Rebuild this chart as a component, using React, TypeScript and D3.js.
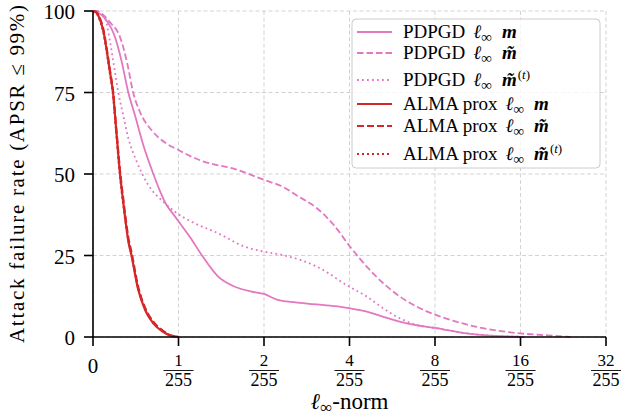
import React from "react";
import * as d3 from "d3";

// x values are in units of 1/255, y values in %
const xTicks = [0, 1, 2, 4, 8, 16, 32];
const yTicks = [0, 25, 50, 75, 100];

const pdpgdM = [
  [0, 100], [0.05, 99.6], [0.14, 97.7], [0.257, 92], [0.336, 84.4], [0.413, 75],
  [0.491, 68], [0.588, 58.9], [0.706, 50], [0.78, 45], [0.86, 40.5], [0.93, 38],
  [1.0, 35.5], [1.1, 30.5], [1.21, 25], [1.38, 18.5], [1.58, 15.4], [1.81, 13.9],
  [2.0, 13.2], [2.22, 11.5], [2.68, 10.5], [3.51, 9.5], [4.02, 8.8], [4.6, 7.8],
  [5.26, 6.2], [6.36, 4.2], [8.1, 2.7], [10.3, 1.1], [12.5, 0.4], [15.5, 0.1], [16.5, 0],
];
const pdpgdMTilde = [
  [0, 100], [0.05, 100], [0.12, 98.8], [0.2, 96.5], [0.316, 92], [0.4, 84], [0.47, 75],
  [0.55, 69], [0.7, 63], [0.85, 59.5], [0.99, 57.5], [1.1, 55.5], [1.21, 54],
  [1.58, 51.5], [2.0, 48.2], [2.34, 46], [2.6, 43.5], [3.07, 39.5], [3.51, 34.5], [4.02, 27.7],
  [4.6, 21.6], [5.26, 16.5], [6.02, 12.4], [6.9, 9.3], [8.1, 6.7], [9.5, 4.7],
  [11.8, 2.7], [16, 1.1], [20, 0.5], [24, 0],
];
const pdpgdMTildeT = [
  [0, 100], [0.05, 99.4], [0.14, 97.7], [0.199, 90.6], [0.238, 84.4], [0.296, 75],
  [0.354, 68], [0.413, 61], [0.511, 53.8], [0.647, 46.6], [0.822, 41.5], [0.959, 38.4],
  [1.14, 34.9], [1.38, 31.8], [1.71, 27.7], [2.0, 26.2], [2.34, 25.1], [3.07, 21.6],
  [4.0, 15.4], [4.6, 12.4], [5.26, 8.8], [6.02, 5.7], [6.9, 3.7], [8.1, 2.7],
  [9.5, 1.6], [11.8, 0.6], [15.5, 0.1], [16.5, 0],
];
const almaM = [
  [0, 100], [0.04, 99.5], [0.08, 97.5], [0.12, 94], [0.16, 88], [0.2, 81], [0.234, 75],
  [0.27, 64], [0.316, 50], [0.36, 40], [0.413, 29.4], [0.45, 25], [0.53, 14.4],
  [0.61, 8.3], [0.705, 4.2], [0.82, 1.6], [0.9, 0.5], [0.98, 0.1], [1.0, 0],
];
const almaMTilde = [
  [0, 100], [0.04, 99.6], [0.08, 97.8], [0.12, 94.5], [0.16, 88.5], [0.2, 81.5],
  [0.234, 75.5], [0.27, 64.5], [0.316, 51], [0.36, 41], [0.413, 30.5], [0.45, 26],
  [0.53, 15.2], [0.61, 8.9], [0.705, 4.7], [0.82, 1.9], [0.9, 0.6], [0.98, 0.1], [1.0, 0],
];
const almaMTildeT = [
  [0, 100], [0.04, 99.4], [0.08, 97.2], [0.12, 93.6], [0.16, 87.5], [0.2, 80.5],
  [0.234, 74.5], [0.27, 63.5], [0.316, 49.5], [0.36, 39.5], [0.413, 29.8], [0.45, 25.5],
  [0.53, 14.9], [0.61, 8.6], [0.705, 4.4], [0.82, 1.7], [0.9, 0.5], [0.98, 0.1], [1.0, 0],
];

const PINK = "#e377c2";
const RED = "#d62728";

const series = [
  { data: pdpgdM, color: PINK, dash: null, width: 1.8, method: "PDPGD", tilde: false, sup: false },
  { data: pdpgdMTilde, color: PINK, dash: "6.5,3", width: 1.8, method: "PDPGD", tilde: true, sup: false },
  { data: pdpgdMTildeT, color: PINK, dash: "1.8,3.2", width: 1.8, method: "PDPGD", tilde: true, sup: true },
  { data: almaM, color: RED, dash: null, width: 2.2, method: "ALMA prox", tilde: false, sup: false },
  { data: almaMTilde, color: RED, dash: "7,3", width: 2.2, method: "ALMA prox", tilde: true, sup: false },
  { data: almaMTildeT, color: RED, dash: "2,3", width: 2.2, method: "ALMA prox", tilde: true, sup: true },
];

const W = 624;
const H = 417;
const left = 93;
const right = 606;
const top = 11;
const bottom = 337;
const FONT = "'Liberation Serif', 'Times New Roman', serif";

// linear up to 1/255, then one tick step per doubling
const warp = (v: number) => (v < 1 ? v : 1 + Math.log2(v));

export default function App() {
  const xLin = d3.scaleLinear().domain([0, warp(32)]).range([left, right]);
  const x = (v: number) => xLin(warp(v));
  const y = d3.scaleLinear().domain([0, 100]).range([bottom, top]);

  const line = d3
    .line<number[]>()
    .x((d) => x(d[0]))
    .y((d) => y(d[1]))
    .curve(d3.curveMonotoneX);

  const rowY = [32, 53, 80, 104, 126, 154];

  return (
    <svg
      width={W}
      height={H}
      style={{ position: "absolute", left: 0, top: 0, background: "#fff" }}
      fontFamily={FONT}
    >
      {/* grid */}
      <g stroke="#d3d3d3" strokeWidth={1} strokeDasharray="4,2.5">
        {xTicks.map((t) => (
          <line key={"gx" + t} x1={x(t)} x2={x(t)} y1={top} y2={bottom} />
        ))}
        {yTicks.map((t) => (
          <line key={"gy" + t} x1={left} x2={right} y1={y(t)} y2={y(t)} />
        ))}
      </g>

      {/* curves */}
      {series.map((s, i) => (
        <path
          key={i}
          d={line(s.data) || ""}
          fill="none"
          stroke={s.color}
          strokeWidth={s.width}
          strokeDasharray={s.dash || undefined}
        />
      ))}

      {/* spines */}
      <line x1={left} x2={left} y1={top} y2={bottom + 0.8} stroke="#000" strokeWidth={1.6} />
      <line x1={left - 0.8} x2={right} y1={bottom} y2={bottom} stroke="#000" strokeWidth={1.6} />

      {/* y ticks */}
      {yTicks.map((t) => (
        <g key={"yt" + t}>
          <line x1={left - 9} x2={left} y1={y(t)} y2={y(t)} stroke="#000" strokeWidth={1.6} />
          <text x={left - 18} y={y(t) + 8} textAnchor="end" fontSize={21}>
            {t}
          </text>
        </g>
      ))}

      {/* x ticks */}
      {xTicks.map((t) => (
        <g key={"xt" + t}>
          <line x1={x(t)} x2={x(t)} y1={bottom} y2={bottom + 9} stroke="#000" strokeWidth={1.6} />
          {t === 0 ? (
            <text x={x(t)} y={373} textAnchor="middle" fontSize={21}>
              0
            </text>
          ) : (
            <g>
              <text x={x(t)} y={366} textAnchor="middle" fontSize={17}>
                {t}
              </text>
              <line x1={x(t) - 15} x2={x(t) + 15} y1={370.5} y2={370.5} stroke="#000" strokeWidth={0.9} />
              <text x={x(t)} y={386} textAnchor="middle" fontSize={18}>
                255
              </text>
            </g>
          )}
        </g>
      ))}

      {/* axis labels */}
      <text x={(left + right) / 2} y={409} textAnchor="middle" fontSize={23}>
        <tspan fontStyle="italic">ℓ</tspan>
        <tspan fontSize={17} dy={4}>∞</tspan>
        <tspan dy={-4}>-norm</tspan>
      </text>
      <text
        transform={`translate(24,${(top + bottom) / 2}) rotate(-90)`}
        textAnchor="middle"
        fontSize={21}
        textLength={338}
        lengthAdjust="spacing"
      >
        Attack failure rate (APSR ≤ 99%)
      </text>

      {/* legend */}
      <rect x={352} y={19} width={248} height={149} rx={4} fill="#fff" fillOpacity={0.8} stroke="#cccccc" strokeWidth={1} />
      {series.map((s, i) => (
        <g key={"lg" + i}>
          <line
            x1={357}
            x2={392}
            y1={rowY[i]}
            y2={rowY[i]}
            stroke={s.color}
            strokeWidth={s.width}
            strokeDasharray={s.dash || undefined}
          />
          <text x={403} y={rowY[i] + 6} fontSize={19}>
            <tspan>{s.method}</tspan>
            <tspan dx={8} fontStyle="italic">ℓ</tspan>
            <tspan fontSize={15} dy={4}>∞</tspan>
            <tspan dx={10} dy={-4} fontWeight="bold" fontStyle="italic" fontSize={19}>
              {s.tilde ? "m\u0303" : "m"}
            </tspan>
            {s.sup && (
              <tspan fontSize={13} dy={-7} dx={1}>
                (<tspan fontStyle="italic">t</tspan>)
              </tspan>
            )}
          </text>
        </g>
      ))}
    </svg>
  );
}
